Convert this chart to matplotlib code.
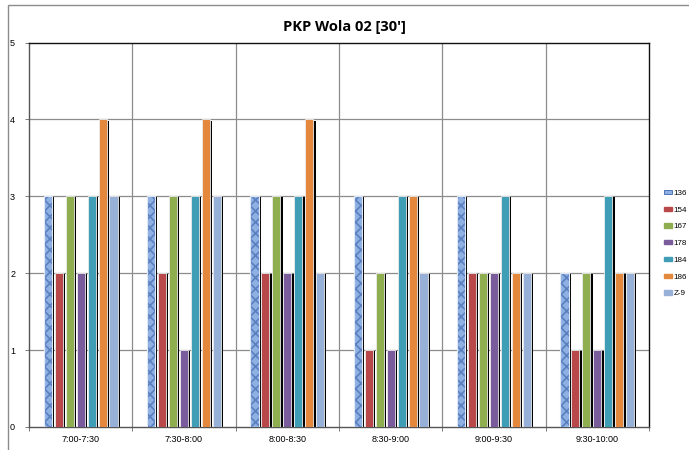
import matplotlib
matplotlib.use("Agg")
import matplotlib.pyplot as plt
from matplotlib.patches import Patch, Rectangle
import numpy as np

categories = ["7:00-7:30", "7:30-8:00", "8:00-8:30", "8:30-9:00", "9:00-9:30", "9:30-10:00"]
series_names = ["136", "154", "167", "178", "184", "186", "Z-9"]
s136 = [3, 3, 3, 3, 3, 2]
s154 = [2, 2, 2, 1, 2, 1]
s167 = [3, 3, 3, 2, 2, 2]
s178 = [2, 1, 2, 1, 2, 1]
s184 = [3, 3, 3, 3, 3, 3]
s186 = [4, 4, 4, 3, 2, 2]
sZ9 = [3, 3, 2, 2, 2, 2]
series = [s136, s154, s167, s178, s184, s186, sZ9]
colors = ["#7f9fd4", "#b9484a", "#8fae4f", "#7a5b9c", "#3f9db6", "#e3883d", "#97b0d8"]

plt.rcParams['font.family'] = ['Liberation Sans', 'DejaVu Sans']
plt.rcParams['hatch.linewidth'] = 1.2

fig = plt.figure(figsize=(6.89, 4.5), dpi=100)
ax = fig.add_axes([29/689, 1-427/450, 620/689, 384.5/450])

x = np.arange(len(categories))
spacing = 0.106
width = 0.078
for i, (vals, c) in enumerate(zip(series, colors)):
    off = (i - 3) * spacing
    # black shadow
    ax.bar(x + off + 0.022, np.array(vals) - 0.015, width=width, color="black", zorder=2, linewidth=0)
    if i == 0:
        ax.bar(x + off, vals, width=width, color="#8fb0e2", edgecolor="#5a80c0", hatch="xxx",
               linewidth=0, zorder=3)
        ax.bar(x + off, vals, width=width, fill=False, edgecolor="#dfe8f6",
               linewidth=0.8, zorder=4)
    else:
        ax.bar(x + off, vals, width=width, color=c, edgecolor="#ececec", linewidth=0.6, zorder=3)

ax.set_xlim(-0.5, len(categories) - 0.5)
ax.set_ylim(0, 5)
ax.set_yticks(range(6))
ax.set_yticklabels([str(v) for v in range(6)], fontsize=6.5)
ax.set_xticks(x)
ax.set_xticklabels(categories, fontsize=6.5)
ax.tick_params(axis='x', length=0, pad=6)
ax.tick_params(axis='y', length=3, width=0.6, color="#666666", pad=7)
ax.set_xticks(np.arange(-0.5, len(categories)), minor=True)
ax.tick_params(axis='x', which='minor', length=3, width=0.6, color="#666666")

for v in range(1, 5):
    ax.axhline(v, color="#8c8c8c", linewidth=0.9, zorder=1)
for b in np.arange(0.5, len(categories) - 0.5):
    ax.axvline(b, color="#8c8c8c", linewidth=0.9, zorder=1)
for name, s in ax.spines.items():
    s.set_linewidth(1.0)
    s.set_color("#111111" if name in ("top", "right") else "#555555")

fig.text(0.5, 1 - 27/450, "PKP Wola 02 [30']", ha="center", va="center",
         fontsize=10.5, fontweight="bold", family=['Open Sans', 'DejaVu Sans'])

handles = []
for i, (n, c) in enumerate(zip(series_names, colors)):
    if i == 0:
        handles.append(Patch(facecolor="#8fb0e2", edgecolor="#3a64b0", linewidth=0.6, label=n))
    else:
        handles.append(Patch(facecolor=c, edgecolor=c, label=n))
fig.legend(handles=handles, loc="upper left", bbox_to_anchor=(664/689, 1 - 190/450),
           frameon=False, fontsize=5.8, handlelength=1.0, handleheight=0.45,
           handletextpad=0.15, labelspacing=1.2, borderaxespad=0, borderpad=0)

fig.patches.append(Rectangle((8/689, -0.05), 1.2, 1 - 5/450 + 0.05, transform=fig.transFigure,
                             fill=False, edgecolor="#8c8c8c", linewidth=1.0))

fig.savefig("out.png", dpi=100)
